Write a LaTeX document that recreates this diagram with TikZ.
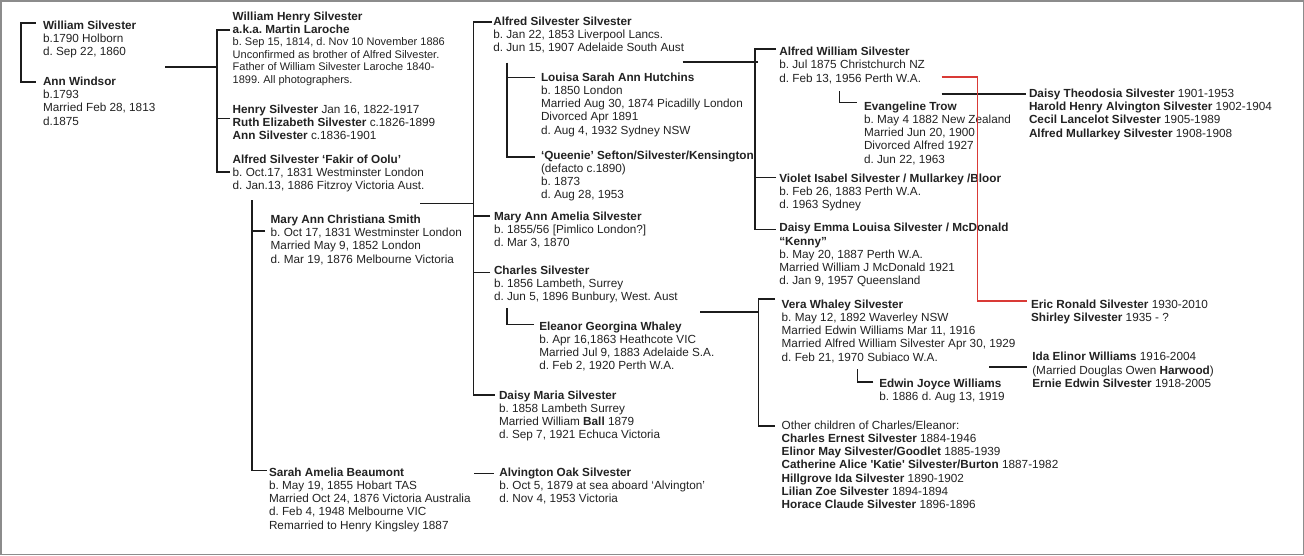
\documentclass[tikz,border=0pt]{standalone}
\usepackage{fontspec}
\setmainfont{Liberation Sans}
\frenchspacing
\definecolor{tc}{HTML}{222222}
\definecolor{lc}{HTML}{1C1C1C}
\definecolor{rc}{HTML}{D93A36}
\definecolor{fc}{HTML}{8C8C8C}
\newcommand\fsA{\fontsize{11.75}{13.3}\selectfont}
\newcommand\fsB{\fontsize{11}{12.55}\selectfont}
\newcommand\blk[1]{\begin{tabular}[t]{@{}l@{}}#1\end{tabular}}
\tikzset{
  ln/.style={draw=lc, line width=1.6pt},
  redln/.style={draw=rc, line width=1.6pt},
  tx/.style={anchor=base west, inner sep=0pt, outer sep=0pt, font=\fsA, text=tc},
  txs/.style={tx, font=\fsB},
}
\begin{document}
\begin{tikzpicture}[x=1pt,y=-1pt]
\useasboundingbox (0,0) rectangle (1304,555);
\draw[fc, line width=1.5pt] (0.75,0.75) rectangle (1303.25,554.25);

% ---------- text blocks ----------
\node[tx] (ws) at (43,29) {\blk{\textbf{William Silvester}\\b.1790 Holborn\\d. Sep 22, 1860}};
\node[tx] (aw) at (43,85.3) {\blk{\textbf{Ann Windsor}\\b.1793\\Married Feb 28, 1813\\d.1875}};

\node[tx] (whs) at (232.7,20) {\blk{\textbf{William Henry Silvester}\\\textbf{a.k.a. Martin Laroche}}};
\node[txs] (whd) at (232.7,45.5) {\blk{b. Sep 15, 1814, d. Nov 10 November 1886\\Unconfirmed as brother of Alfred Silvester.\\Father of William Silvester Laroche 1840-\\1899. All photographers.}};
\node[tx] (hs) at (232.7,113.3) {\blk{\textbf{Henry Silvester} Jan 16, 1822-1917\\\textbf{Ruth Elizabeth Silvester} c.1826-1899\\\textbf{Ann Silvester} c.1836-1901}};
\node[tx] (as) at (232.7,163) {\blk{\textbf{Alfred Silvester ‘Fakir of Oolu’}\\b. Oct.17, 1831 Westminster London\\d. Jan.13, 1886 Fitzroy Victoria Aust.}};

\node[tx] (mac) at (270.7,223.3) {\blk{\textbf{Mary Ann Christiana Smith}\\b. Oct 17, 1831 Westminster London\\Married May 9, 1852 London\\d. Mar 19, 1876 Melbourne Victoria}};
\node[tx] (sab) at (269,476) {\blk{\textbf{Sarah Amelia Beaumont}\\b. May 19, 1855 Hobart TAS\\Married Oct 24, 1876 Victoria Australia\\d. Feb 4, 1948 Melbourne VIC\\Remarried to Henry Kingsley 1887}};

\node[tx] (ass) at (493.3,25) {\blk{\textbf{Alfred Silvester Silvester}\\b. Jan 22, 1853 Liverpool Lancs.\\d. Jun 15, 1907 Adelaide South Aust}};
\node[tx] (lsah) at (541,81) {\blk{\textbf{Louisa Sarah Ann Hutchins}\\b. 1850 London\\Married Aug 30, 1874 Picadilly London\\Divorced Apr 1891\\d. Aug 4, 1932 Sydney NSW}};
\node[tx] (qs) at (541,159) {\blk{\textbf{‘Queenie’ Sefton/Silvester/Kensington}\\(defacto c.1890)\\b. 1873\\d. Aug 28, 1953}};
\node[tx] (maas) at (494,220) {\blk{\textbf{Mary Ann Amelia Silvester}\\b. 1855/56 [Pimlico London?]\\d. Mar 3, 1870}};
\node[tx] (cs) at (494,274) {\blk{\textbf{Charles Silvester}\\b. 1856 Lambeth, Surrey\\d. Jun 5, 1896 Bunbury, West. Aust}};
\node[tx] (egw) at (539.3,330) {\blk{\textbf{Eleanor Georgina Whaley}\\b. Apr 16,1863 Heathcote VIC\\Married Jul 9, 1883 Adelaide S.A.\\d. Feb 2, 1920 Perth W.A.}};
\node[tx] (dms) at (499,399) {\blk{\textbf{Daisy Maria Silvester}\\b. 1858 Lambeth Surrey\\Married William \textbf{Ball} 1879\\d. Sep 7, 1921 Echuca Victoria}};
\node[tx] (aos) at (499.3,476) {\blk{\textbf{Alvington Oak Silvester}\\b. Oct 5, 1879 at sea aboard ‘Alvington’\\d. Nov 4, 1953 Victoria}};

\node[tx] (aws) at (779.3,55.5) {\blk{\textbf{Alfred William Silvester}\\b. Jul 1875 Christchurch NZ\\d. Feb 13, 1956 Perth W.A.}};
\node[tx] (et) at (864,110) {\blk{\textbf{Evangeline Trow}\\b. May 4 1882 New Zealand\\Married Jun 20, 1900\\Divorced Alfred 1927\\d. Jun 22, 1963}};
\node[tx] (vis) at (779.3,182.3) {\blk{\textbf{Violet Isabel Silvester / Mullarkey /Bloor}\\b. Feb 26, 1883 Perth W.A.\\d. 1963 Sydney}};
\node[tx] (del) at (779.3,231.7) {\blk{\textbf{Daisy Emma Louisa Silvester / McDonald}\\\textbf{“Kenny”}\\b. May 20, 1887 Perth W.A.\\Married William J McDonald 1921\\d. Jan 9, 1957 Queensland}};
\node[tx] (vws) at (781.7,308) {\blk{\textbf{Vera Whaley Silvester}\\b. May 12, 1892 Waverley NSW\\Married Edwin Williams Mar 11, 1916\\Married Alfred William Silvester Apr 30, 1929\\d. Feb 21, 1970 Subiaco W.A.}};
\node[tx] (ejw) at (879.3,387) {\blk{\textbf{Edwin Joyce Williams}\\b. 1886 d. Aug 13, 1919}};
\node[tx] (oc) at (781.7,429) {\blk{Other children of Charles/Eleanor:\\\textbf{Charles Ernest Silvester} 1884-1946\\\textbf{Elinor May Silvester/Goodlet} 1885-1939\\\textbf{Catherine Alice \textquotesingle Katie\textquotesingle\ Silvester/Burton} 1887-1982\\\textbf{Hillgrove Ida Silvester} 1890-1902\\\textbf{Lilian Zoe Silvester} 1894-1894\\\textbf{Horace Claude Silvester} 1896-1896}};

\node[tx] (dts) at (1029,97.3) {\blk{\textbf{Daisy Theodosia Silvester} 1901-1953\\\textbf{Harold Henry Alvington Silvester} 1902-1904\\\textbf{Cecil Lancelot Silvester} 1905-1989\\\textbf{Alfred Mullarkey Silvester} 1908-1908}};
\node[tx] (ers) at (1031,308.3) {\blk{\textbf{Eric Ronald Silvester} 1930-2010\\\textbf{Shirley Silvester} 1935 - ?}};
\node[tx] (iew) at (1032.3,360.7) {\blk{\textbf{Ida Elinor Williams} 1916-2004\\(Married Douglas Owen \textbf{Harwood})\\\textbf{Ernie Edwin Silvester} 1918-2005}};

% ---------- union points ----------
\coordinate (u1) at (165,66.7);
\coordinate (u2) at (251.7,200);
\coordinate (u3) at (420,203.3);
\coordinate (u4) at (506.7,62.7);
\coordinate (u5) at (682.7,61.7);
\coordinate (u6) at (941.7,94);
\coordinate (u7) at (941.7,76.7);
\coordinate (u8) at (700,311.7);
\coordinate (u9) at (989.3,366.7);
\coordinate (u10) at (474,473.3);

% ---------- connectors ----------
% William & Ann
\draw[ln] ([shift={(-7.3,-6.3)}]ws.base west) -- ++(-14.7,0) |- ([shift={(-7.3,-3.6)}]aw.base west);
\draw[ln] (u1) -- ++(51.7,0);
% their children
\draw[ln] ([shift={(-2.7,10)}]whs.base west) -- ++(-13.3,0) |- ([shift={(-2.7,8.7)}]as.base west);
\draw[ln] ([shift={(-2.7,5)}]hs.base west) -- ++(-13.3,0);
% Alfred's wives
\draw[ln] (u2) |- ([shift={(-2.3,-5.7)}]sab.base west);
\draw[ln] ([shift={(-5.7,7.7)}]mac.base west) -- ++(-13.3,0);
% children of Alfred & Mary
\draw[ln] (u3) -- ++(53.3,0);
\draw[ln] ([shift={(-1.6,-3.3)}]ass.base west) -- ++(-18.4,0) |- ([shift={(-4,-4)}]dms.base west);
\draw[ln] ([shift={(-4,-4.3)}]maas.base west) -- ++(-16.7,0);
\draw[ln] ([shift={(-4,-1.7)}]cs.base west) -- ++(-16.7,0);
% Alfred S S wives
\draw[ln] (u4) |- ([shift={(-6,-2.3)}]qs.base west);
\draw[ln] ([shift={(-6,-3.7)}]lsah.base west) -- ++(-28.3,0);
% children of Alfred S S & Louisa
\draw[ln] (u5) -- ++(75.3,0);
\draw[ln] ([shift={(-3.3,-6.5)}]aws.base west) -- ++(-21.3,0) |- ([shift={(-3.3,-2.2)}]del.base west);
\draw[ln] ([shift={(-3.3,-5)}]vis.base west) -- ++(-21.3,0);
% Alfred William & Evangeline
\draw[ln] ([shift={(-7.3,-7.7)}]et.base west) -- ++(-17.4,0) -- ++(0,-11.3);
\draw[ln] (u6) -- ([shift={(-3,-3.3)}]dts.base west);
\draw[redln] (u7) -- ++(35.6,0) |- ([shift={(-4.3,-7.6)}]ers.base west);
% Charles & Eleanor
\draw[ln] ([shift={(-5.3,-5.7)}]egw.base west) -- ++(-27.3,0) -- ++(0,-16);
\draw[ln] (u8) -- ++(58,0);
\draw[ln] ([shift={(-6.7,-9)}]vws.base west) -- ++(-16.7,0) |- ([shift={(-6.7,-3.3)}]oc.base west);
% Vera & Edwin
\draw[ln] ([shift={(-6,-5.3)}]ejw.base west) -- ++(-16,0) -- ++(0,-12.4);
\draw[ln] (u9) -- ([shift={(-5,6)}]iew.base west);
% Alfred & Sarah
\draw[ln] (u10) -- ([shift={(-5,-2.7)}]aos.base west);
\end{tikzpicture}
\end{document}
